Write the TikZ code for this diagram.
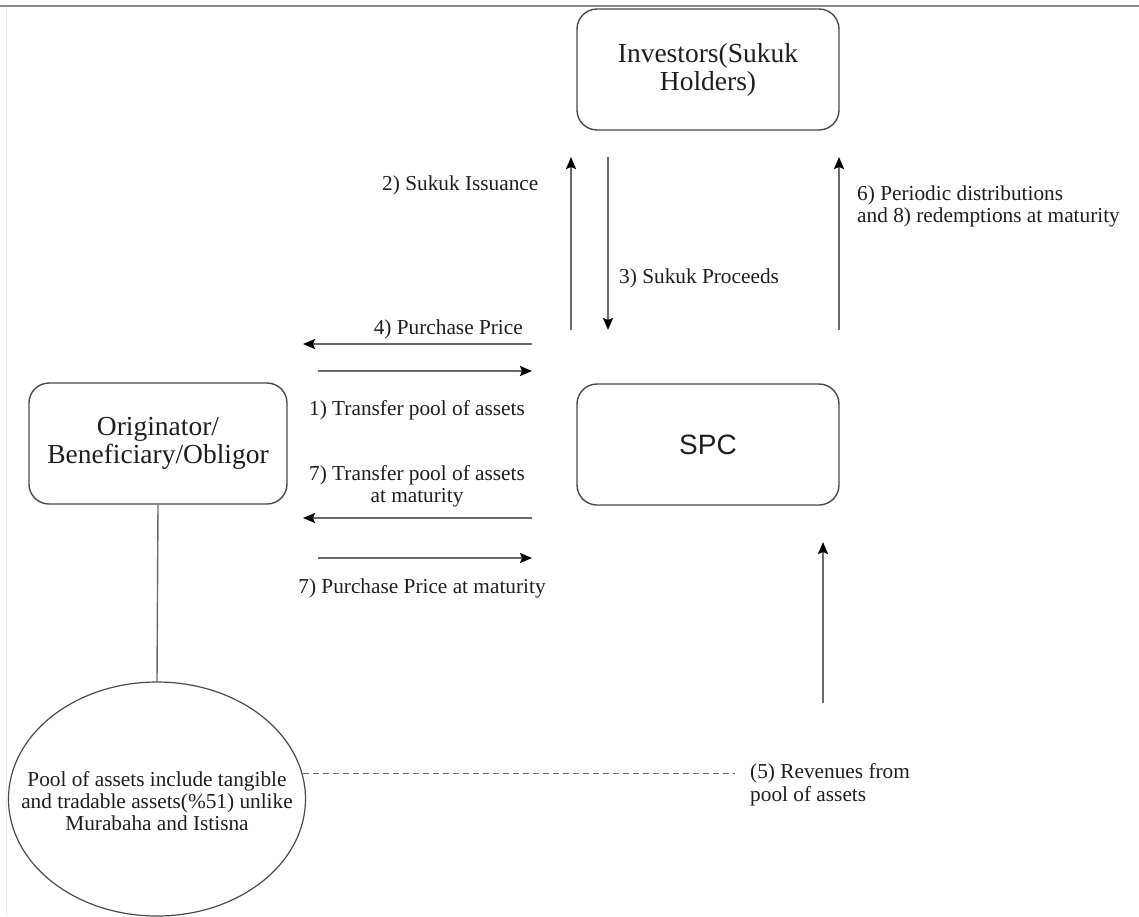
\documentclass[tikz,border=0pt]{standalone}
\usepackage{fontspec}
\setmainfont{Liberation Serif}
\newfontfamily\spcfont{Liberation Sans}
\usetikzlibrary{arrows.meta,shapes.geometric}
\definecolor{ink}{HTML}{1E1E1E}
\definecolor{boxgray}{HTML}{4A4A4A}
\definecolor{linegray}{HTML}{6A6A6A}
\definecolor{rulegray}{HTML}{8C8C8C}
\begin{document}
\begin{tikzpicture}[x=1pt,y=-1pt,
  box/.style={draw=boxgray, line width=1.4pt, rounded corners=20pt,
    minimum width=262pt, minimum height=121pt, align=center, inner sep=0pt,
    font=\fontsize{27.5}{28}\selectfont, text=ink},
  lbl/.style={font=\fontsize{21.3}{21.5}\selectfont, text=ink, inner sep=0pt, align=left},
  flow/.style={draw=linegray, line width=1.6pt,
    -{Stealth[length=12pt,width=10pt,inset=2pt,color=black]}},
]
\useasboundingbox (0,0) rectangle (1139,916);
\fill[white] (0,0) rectangle (1139,916);

% page rule and faint left edge
\coordinate (ruleL) at (0,6);
\coordinate (ruleR) at (1139,6);
\draw[rulegray, line width=2pt] (ruleL) -- (ruleR);
\coordinate (edgeT) at (6,7);
\coordinate (edgeB) at (6,916);
\draw[black!8, line width=1pt] (edgeT) -- (edgeB);

% parties
\node[box] (inv) at (708,69.5) {Investors(Sukuk\\Holders)};
\node[box, minimum width=258pt] (orig) at (158,443.5) {Originator/\\Beneficiary/Obligor};
\node[box, font=\spcfont\fontsize{28}{28}\selectfont] (spc) at (708,444.5) {SPC};

% asset pool: outline and its text
\node[ellipse, draw=boxgray, line width=1.2pt, minimum width=297pt, minimum height=234pt,
      inner sep=0pt] (pool) at (157,799) {};
\node[align=center, inner sep=0pt, font=\fontsize{21.3}{22}\selectfont, text=ink]
      (pooltext) at (157,801) {Pool of assets include tangible\\and tradable assets(\%51) unlike\\Murabaha and Istisna};

% link from originator to its asset pool
\draw[linegray, line width=1.4pt] (orig.south) -- (pool.north);

% revenues from the pool
\coordinate (dashend) at (735,773);
\draw[linegray, line width=1pt, dash pattern=on 6pt off 4pt] (pool.10) -- (pool.10 -| dashend);

% flow arrows
\coordinate (a2s) at (571,330); \coordinate (a2e) at (571,157);
\coordinate (a3s) at (608,157); \coordinate (a3e) at (608,330);
\coordinate (a6s) at (839,330); \coordinate (a6e) at (839,157);
\coordinate (a4s) at (532,344); \coordinate (a4e) at (303,344);
\coordinate (a1s) at (318,371); \coordinate (a1e) at (532,371);
\coordinate (a7ls) at (532,518); \coordinate (a7le) at (303,518);
\coordinate (a7rs) at (318,558); \coordinate (a7re) at (532,558);
\coordinate (a5s) at (823,703); \coordinate (a5e) at (823,542);

\draw[flow] (a2s) -- (a2e);
\draw[flow] (a3s) -- (a3e);
\draw[flow] (a6s) -- (a6e);
\draw[flow] (a4s) -- (a4e);
\draw[flow] (a1s) -- (a1e);
\draw[flow] (a7ls) -- (a7le);
\draw[flow] (a7rs) -- (a7re);
\draw[flow] (a5s) -- (a5e);

% labels
\node[lbl, anchor=west] (l2) at (382,185) {2) Sukuk Issuance};
\node[lbl, anchor=west] (l3) at (619,278) {3) Sukuk Proceeds};
\node[lbl, anchor=west] (l6) at (857,206.5) {6) Periodic distributions\\and 8) redemptions at maturity};
\node[lbl, anchor=east] (l4) at (523,329) {4) Purchase Price};
\node[lbl] (l1) at (417,410) {1) Transfer pool of assets};
\node[lbl, align=center] (l7a) at (417,486.5) {7) Transfer pool of assets\\at maturity};
\node[lbl] (l7b) at (422,588) {7) Purchase Price at maturity};
\node[lbl, anchor=west] (l5) at (750,785) {(5) Revenues from\\[2pt]pool of assets};
\end{tikzpicture}
\end{document}
